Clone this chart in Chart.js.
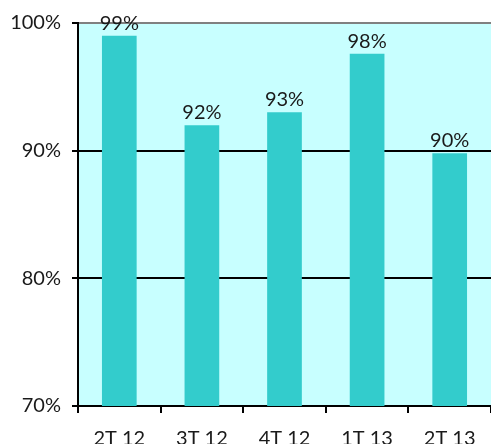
<!DOCTYPE html>
<html>
<head>
<meta charset="utf-8">
<script src="https://cdn.jsdelivr.net/npm/chart.js@4/dist/chart.umd.min.js"></script>
<style>
  html, body { margin: 0; padding: 0; background: #ffffff; }
  #wrap { width: 491px; height: 444px; }
</style>
</head>
<body>
<div id="wrap"><canvas id="c" width="491" height="444"></canvas></div>
<script>
// Quarterly rate, in percent
const quarters = ['2T 12', '3T 12', '4T 12', '1T 13', '2T 13'];
const rates = [99.0, 92.0, 93.0, 97.6, 89.8];
const yTicks = [70, 80, 90, 100];

const FONT = { family: 'Lato, "Open Sans", sans-serif', size: 20 };
const PLOT_BG = '#c8ffff';
const BAR = '#33cccc';

// Fill the plot area behind the bars
const plotBackground = {
  id: 'plotBackground',
  beforeDraw(chart) {
    const { ctx, chartArea: a } = chart;
    ctx.save();
    ctx.fillStyle = PLOT_BG;
    ctx.fillRect(a.left, a.top, a.right - a.left, a.bottom - a.top);
    ctx.restore();
  }
};

// Rounded percentage written above each bar
const valueLabels = {
  id: 'valueLabels',
  afterDatasetsDraw(chart) {
    const { ctx } = chart;
    const meta = chart.getDatasetMeta(0);
    ctx.save();
    ctx.font = `${FONT.size}px ${FONT.family}`;
    ctx.fillStyle = '#1a1a1a';
    ctx.textAlign = 'center';
    ctx.textBaseline = 'alphabetic';
    meta.data.forEach((bar, i) => {
      ctx.fillText(Math.round(rates[i]) + '%', bar.x, bar.y - 6);
    });
    ctx.restore();
  }
};

new Chart(document.getElementById('c'), {
  type: 'bar',
  data: {
    labels: quarters,
    datasets: [{
      data: rates,
      backgroundColor: BAR,
      borderWidth: 0,
      barPercentage: 0.42,
      categoryPercentage: 1.0
    }]
  },
  options: {
    responsive: false,
    animation: false,
    devicePixelRatio: 1,
    layout: { padding: { top: 23, right: 0, left: 0, bottom: 0 } },
    plugins: {
      legend: { display: false },
      tooltip: { enabled: false }
    },
    scales: {
      x: {
        grid: {
          offset: true,
          drawOnChartArea: false,
          color: '#000000',
          lineWidth: 2,
          tickLength: 7
        },
        border: { color: '#000000', width: 2 },
        ticks: { color: '#1a1a1a', font: FONT, padding: 14, maxRotation: 0 },
        afterFit(scale) { scale.height = 38; }
      },
      y: {
        min: 70,
        max: 100,
        afterBuildTicks(scale) { scale.ticks = yTicks.map(v => ({ value: v })); },
        grid: {
          color: ctx => (ctx.tick && ctx.tick.value === 100 ? '#808080' : '#000000'),
          tickColor: '#000000',
          lineWidth: 2,
          tickLength: 6
        },
        border: { color: '#000000', width: 2 },
        ticks: {
          color: '#1a1a1a',
          font: FONT,
          padding: 11,
          callback: v => v + '%'
        },
        afterFit(scale) { scale.width = 78; }
      }
    }
  },
  plugins: [plotBackground, valueLabels]
});
</script>
</body>
</html>
